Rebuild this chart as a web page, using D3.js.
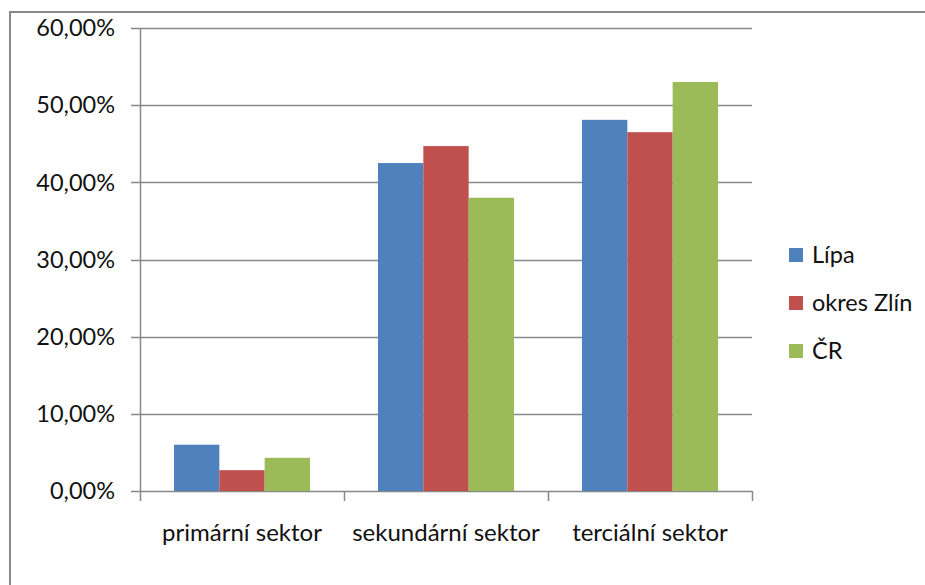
<!DOCTYPE html>
<html>
<head>
<meta charset="utf-8">
<script src="https://cdn.jsdelivr.net/npm/d3@7"></script>
<style>
  body { margin: 0; background: #fff; }
  text { font-family: Lato, "Open Sans", sans-serif; fill: #111; }
</style>
</head>
<body>
<script>
var categories = ["primární sektor", "sekundární sektor", "terciální sektor"];
var series = ["Lípa", "okres Zlín", "ČR"];
var lipa = [0.060, 0.425, 0.481];
var zlin = [0.027, 0.447, 0.465];
var cr = [0.043, 0.380, 0.530];
var yTicks = [0, 0.1, 0.2, 0.3, 0.4, 0.5, 0.6];
var colors = ["#4f81bd", "#c0504d", "#9bbb59"];

var values = [lipa, zlin, cr];
var W = 925, H = 585;
var margin = {top: 28, left: 140, right: 173, bottom: 94};

var svg = d3.select("body").append("svg")
    .attr("width", W)
    .attr("height", H);

// outer frame (only top and left edges visible)
svg.append("path")
   .attr("d", "M10," + H + "V12H" + W)
   .attr("fill", "none")
   .attr("stroke", "#888")
   .attr("stroke-width", 2);

var x0 = d3.scaleBand()
    .domain(categories)
    .range([margin.left, W - margin.right]);

var x1 = d3.scaleBand()
    .domain(series)
    .range([0, x0.bandwidth()])
    .paddingOuter(0.75)
    .paddingInner(0);

var y = d3.scaleLinear()
    .domain([0, 0.6])
    .range([H - margin.bottom, margin.top]);

var loc = d3.formatLocale({decimal: ",", thousands: " ", grouping: [3], currency: ["", ""]});
var fmt = loc.format(".2%");

// grid
svg.append("g")
   .selectAll("line")
   .data(yTicks)
   .enter()
   .append("line")
   .attr("x1", margin.left - 9)
   .attr("x2", W - margin.right)
   .attr("y1", function(d) { return Math.round(y(d)) + 0.5; })
   .attr("y2", function(d) { return Math.round(y(d)) + 0.5; })
   .attr("stroke", "#888")
   .attr("stroke-width", 1.5);

// y axis line
svg.append("line")
   .attr("x1", margin.left + 0.5).attr("x2", margin.left + 0.5)
   .attr("y1", y(0.6)).attr("y2", y(0))
   .attr("stroke", "#888")
   .attr("stroke-width", 1.5);

// y labels
svg.append("g")
   .selectAll("text")
   .data(yTicks)
   .enter()
   .append("text")
   .text(function(d) { return fmt(d); })
   .attr("x", margin.left - 25)
   .attr("y", function(d) { return y(d); })
   .attr("dy", "0.35em")
   .attr("text-anchor", "end")
   .attr("font-size", "23.5px");

// bars
var groups = svg.append("g")
   .selectAll("g")
   .data(series)
   .enter()
   .append("g")
   .attr("fill", function(d, i) { return colors[i]; });

groups.selectAll("rect")
   .data(function(d, i) { return values[i].map(function(v, j) { return {s: d, c: categories[j], v: v}; }); })
   .enter()
   .append("rect")
   .attr("x", function(d) { return x0(d.c) + x1(d.s); })
   .attr("y", function(d) { return y(d.v); })
   .attr("width", x1.bandwidth())
   .attr("height", function(d) { return y(0) - y(d.v); });

// x axis ticks at category boundaries
var bounds = categories.map(function(c) { return x0(c); }).concat([x0.range()[1]]);
svg.append("g")
   .selectAll("line")
   .data(bounds)
   .enter()
   .append("line")
   .attr("x1", function(d) { return Math.round(d) + 0.5; })
   .attr("x2", function(d) { return Math.round(d) + 0.5; })
   .attr("y1", y(0))
   .attr("y2", y(0) + 10)
   .attr("stroke", "#888")
   .attr("stroke-width", 1.5);

// category labels
svg.append("g")
   .selectAll("text")
   .data(categories)
   .enter()
   .append("text")
   .text(function(d) { return d; })
   .attr("x", function(d) { return x0(d) + x0.bandwidth() / 2; })
   .attr("y", 533)
   .attr("dy", "0.35em")
   .attr("text-anchor", "middle")
   .attr("font-size", "24px");

// legend
var leg = svg.append("g")
   .selectAll("g")
   .data(series)
   .enter()
   .append("g")
   .attr("transform", function(d, i) { return "translate(789," + (255 + i * 48) + ")"; });

leg.append("rect")
   .attr("x", 0)
   .attr("y", -7)
   .attr("width", 14)
   .attr("height", 14)
   .attr("fill", function(d, i) { return colors[i]; });

leg.append("text")
   .text(function(d) { return d; })
   .attr("x", 23)
   .attr("y", 0)
   .attr("dy", "0.35em")
   .attr("font-size", "23.5px");
</script>
</body>
</html>
